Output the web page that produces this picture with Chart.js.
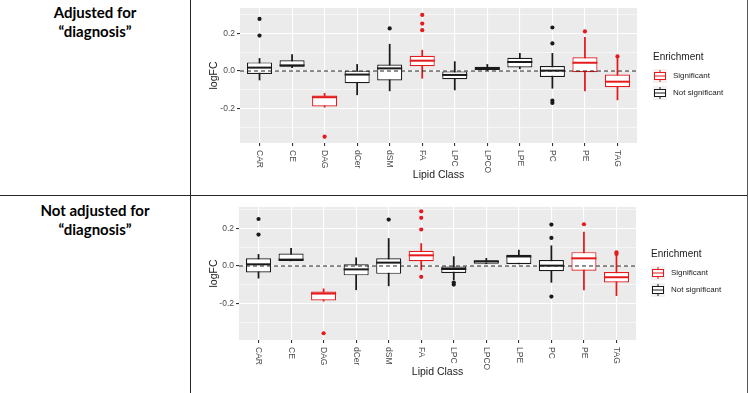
<!DOCTYPE html>
<html>
<head>
<meta charset="utf-8">
<script src="https://cdn.jsdelivr.net/npm/chart.js@4.4.0/dist/chart.umd.min.js"></script>
<style>
  body { margin: 0; background: #fff; width: 748px; height: 393px; overflow: hidden; position: relative; font-family: "Liberation Sans", Arial, sans-serif; }
  .rowlabel { position: absolute; left: 0; width: 190px; text-align: center; font: bold 15px/19px Lato, sans-serif; color: #000; }
  .line { position: absolute; background: #262626; }
  .panel { position: absolute; left: 191px; width: 556px; }
  .legend { position: absolute; font-size: 8px; color: #1a1a1a; }
  .legend .title { font-size: 10px; height: 12px; line-height: 12px; margin-bottom: 4px; }
  .legend .item { display: flex; align-items: center; height: 17px; }
  .legend svg { margin-right: 6px; background: #F2F2F2; }
</style>
</head>
<body>

<div class="rowlabel" style="top:3px">Adjusted for<br>“diagnosis”</div>
<div class="rowlabel" style="top:201px">Not adjusted for<br>“diagnosis”</div>

<div class="line" style="left:190px;top:0;width:1px;height:393px"></div>
<div class="line" style="left:0;top:195px;width:748px;height:1px"></div>
<div class="line" style="left:747px;top:0;width:1px;height:393px;background:#555"></div>

<div class="panel" style="top:0;height:195px"><canvas id="adjChart"></canvas></div>
<div class="panel" style="top:196px;height:197px"><canvas id="notAdjChart"></canvas></div>

<div class="legend" style="left:653px;top:51px">
  <div class="title">Enrichment</div>
  <div class="item"><svg width="14" height="14"><line x1="7" y1="1" x2="7" y2="13" stroke="#E41A1C"/><rect x="1.5" y="3.5" width="11" height="7" fill="#fff" stroke="#E41A1C"/><line x1="1.5" y1="7" x2="12.5" y2="7" stroke="#E41A1C"/></svg>Significant</div>
  <div class="item"><svg width="14" height="14"><line x1="7" y1="1" x2="7" y2="13" stroke="#1a1a1a"/><rect x="1.5" y="3.5" width="11" height="7" fill="#fff" stroke="#1a1a1a"/><line x1="1.5" y1="7" x2="12.5" y2="7" stroke="#1a1a1a"/></svg>Not significant</div>
</div>
<div class="legend" style="left:651px;top:248px">
  <div class="title">Enrichment</div>
  <div class="item"><svg width="14" height="14"><line x1="7" y1="1" x2="7" y2="13" stroke="#E41A1C"/><rect x="1.5" y="3.5" width="11" height="7" fill="#fff" stroke="#E41A1C"/><line x1="1.5" y1="7" x2="12.5" y2="7" stroke="#E41A1C"/></svg>Significant</div>
  <div class="item"><svg width="14" height="14"><line x1="7" y1="1" x2="7" y2="13" stroke="#1a1a1a"/><rect x="1.5" y="3.5" width="11" height="7" fill="#fff" stroke="#1a1a1a"/><line x1="1.5" y1="7" x2="12.5" y2="7" stroke="#1a1a1a"/></svg>Not significant</div>
</div>

<script>
const categories = ['CAR', 'CE', 'DAG', 'dCer', 'dSM', 'FA', 'LPC', 'LPCO', 'LPE', 'PC', 'PE', 'TAG'];
const significant = [false, false, true, false, false, true, false, false, false, false, true, true];
const yTicks = [-0.3, -0.2, -0.1, 0, 0.1, 0.2, 0.3];

// adjusted for diagnosis
const adjLow = [-0.048, 0.018, -0.193, -0.127, -0.106, -0.039, -0.101, 0.000, 0.012, -0.092, -0.106, -0.154];
const adjQ1 = [-0.016, 0.023, -0.189, -0.065, -0.050, 0.025, -0.044, 0.004, 0.019, -0.032, -0.007, -0.087];
const adjMedian = [0.018, 0.030, -0.140, -0.019, 0.014, 0.055, -0.021, 0.014, 0.048, 0.002, 0.044, -0.057];
const adjQ3 = [0.046, 0.057, -0.131, 0.002, 0.035, 0.081, -0.002, 0.023, 0.071, 0.027, 0.073, -0.019];
const adjHigh = [0.067, 0.088, -0.119, 0.035, 0.143, 0.111, 0.050, 0.035, 0.094, 0.094, 0.179, 0.067];
const adjOutliers = [[0.278, 0.189], [], [-0.350], [], [0.227], [0.299, 0.253, 0.218], [], [], [], [0.232, 0.147, -0.158, -0.170], [0.211], [0.078]];

// not adjusted for diagnosis
const notAdjLow = [-0.065, 0.027, -0.188, -0.127, -0.106, -0.021, -0.074, 0.012, 0.011, -0.087, -0.127, -0.158];
const notAdjQ1 = [-0.034, 0.027, -0.184, -0.050, -0.042, 0.025, -0.037, 0.012, 0.011, -0.028, -0.025, -0.088];
const notAdjMedian = [0.009, 0.034, -0.147, -0.018, 0.018, 0.057, -0.016, 0.025, 0.051, 0.002, 0.041, -0.060];
const notAdjQ3 = [0.041, 0.067, -0.136, 0.009, 0.041, 0.081, 0.000, 0.030, 0.060, 0.032, 0.074, -0.032];
const notAdjHigh = [0.062, 0.094, -0.122, 0.044, 0.147, 0.120, 0.050, 0.041, 0.085, 0.108, 0.181, 0.062];
const notAdjOutliers = [[0.251, 0.168], [], [-0.359], [], [0.248], [0.292, 0.257, 0.195, -0.058], [-0.088, -0.099], [], [], [0.221, 0.150, -0.163], [0.223], [0.073, 0.064]];

const RED = '#E41A1C';
const BLACK = '#1a1a1a';
const colourOf = i => significant[i] ? RED : BLACK;
const isMajor = v => Math.round(v * 10) % 2 === 0;

// grey ggplot panel
const panelBackground = {
    id: 'panelBackground',
    beforeDraw(chart) {
        const { ctx, chartArea: a } = chart;
        ctx.save();
        ctx.fillStyle = '#EBEBEB';
        ctx.fillRect(a.left, a.top, a.right - a.left, a.bottom - a.top);
        ctx.restore();
    }
};

// x labels read top to bottom like ggplot angle = -90
const verticalLabels = {
    id: 'verticalLabels',
    afterDraw(chart) {
        const { ctx, chartArea: a } = chart;
        const xs = chart.scales.x;
        ctx.save();
        ctx.font = '8.5px "Liberation Sans", Arial, sans-serif';
        ctx.fillStyle = '#4D4D4D';
        ctx.textAlign = 'left';
        ctx.textBaseline = 'middle';
        categories.forEach((c, i) => {
            ctx.save();
            ctx.translate(xs.getPixelForValue(i), a.bottom + 7);
            ctx.rotate(Math.PI / 2);
            ctx.fillText(c, 0, 0);
            ctx.restore();
        });
        ctx.restore();
    }
};

function buildBoxPlot(canvasId, low, q1, median, q3, high, outliers, yMin, yMax, layout) {
    const idx = categories.map((c, i) => i);
    const outlierPoints = [];
    const outlierColours = [];
    outliers.forEach((list, i) => {
        list.forEach(v => {
            outlierPoints.push({ x: i, y: v });
            outlierColours.push(colourOf(i));
        });
    });

    const ctx = document.getElementById(canvasId).getContext('2d');
    return new Chart(ctx, {
        type: 'bar',
        data: {
            datasets: [
                {
                    type: 'line',
                    order: 0,
                    data: [{ x: -0.6, y: 0 }, { x: 11.6, y: 0 }],
                    borderColor: '#222',
                    borderWidth: 1.1,
                    borderDash: [4, 3],
                    pointRadius: 0
                },
                {
                    type: 'scatter',
                    order: 1,
                    data: idx.map(i => ({ x: i, y: median[i] })),
                    pointStyle: 'line',
                    pointRadius: 12.5,
                    pointBorderWidth: 2,
                    pointBorderColor: idx.map(colourOf)
                },
                {
                    type: 'scatter',
                    order: 1,
                    data: outlierPoints,
                    pointRadius: 2.1,
                    pointBorderWidth: 0,
                    pointBackgroundColor: outlierColours
                },
                {
                    order: 2,
                    data: idx.map(i => ({ x: i, y: [q1[i], q3[i]] })),
                    backgroundColor: '#fff',
                    borderColor: idx.map(colourOf),
                    borderWidth: 1.2,
                    borderSkipped: false,
                    grouped: false,
                    categoryPercentage: 1,
                    barPercentage: 0.77
                },
                {
                    order: 3,
                    data: idx.map(i => ({ x: i, y: [low[i], high[i]] })),
                    backgroundColor: idx.map(colourOf),
                    borderWidth: 0,
                    grouped: false,
                    barThickness: 1.1
                }
            ]
        },
        options: {
            responsive: true,
            maintainAspectRatio: false,
            animation: false,
            events: [],
            layout: { autoPadding: false, padding: { top: layout.top, right: layout.right, left: 0, bottom: 0 } },
            plugins: { legend: { display: false }, tooltip: { enabled: false } },
            scales: {
                x: {
                    type: 'linear',
                    min: -0.6,
                    max: 11.6,
                    offset: false,
                    afterBuildTicks: s => { s.ticks = idx.map(i => ({ value: i })); },
                    afterFit: s => { s.height = layout.xHeight; s.paddingLeft = 0; s.paddingRight = 0; },
                    ticks: { display: false },
                    grid: { offset: false, color: '#fff', lineWidth: 1.1, tickColor: '#333', tickLength: 3 },
                    border: { display: false },
                    title: {
                        display: true,
                        text: 'Lipid Class',
                        color: '#1a1a1a',
                        font: { size: 10.5, family: '"Liberation Sans", Arial, sans-serif' },
                        padding: { top: 0, bottom: layout.titlePad }
                    }
                },
                y: {
                    min: yMin,
                    max: yMax,
                    afterBuildTicks: s => { s.ticks = yTicks.map(v => ({ value: v })); },
                    afterFit: s => { s.width = layout.yWidth; s.paddingTop = 0; s.paddingBottom = 0; },
                    ticks: {
                        color: '#4D4D4D',
                        padding: 2,
                        font: { size: 8.5, family: '"Liberation Sans", Arial, sans-serif' },
                        callback: v => isMajor(v) ? v.toFixed(1) : ''
                    },
                    grid: {
                        color: '#fff',
                        lineWidth: c => isMajor(c.tick.value) ? 1.1 : 0.55,
                        tickColor: c => isMajor(c.tick.value) ? '#333' : 'rgba(0,0,0,0)',
                        tickLength: 3
                    },
                    border: { display: false },
                    title: {
                        display: true,
                        text: 'logFC',
                        color: '#1a1a1a',
                        font: { size: 10.5, family: '"Liberation Sans", Arial, sans-serif' },
                        padding: { top: 17, bottom: 0 }
                    }
                }
            }
        },
        plugins: [panelBackground, verticalLabels]
    });
}

buildBoxPlot('adjChart', adjLow, adjQ1, adjMedian, adjQ3, adjHigh, adjOutliers, -0.384, 0.336,
    { top: 8, right: 110, xHeight: 52, yWidth: 49, titlePad: 14 });
buildBoxPlot('notAdjChart', notAdjLow, notAdjQ1, notAdjMedian, notAdjQ3, notAdjHigh, notAdjOutliers, -0.395, 0.315,
    { top: 11, right: 111, xHeight: 53, yWidth: 48, titlePad: 15 });
</script>
</body>
</html>
